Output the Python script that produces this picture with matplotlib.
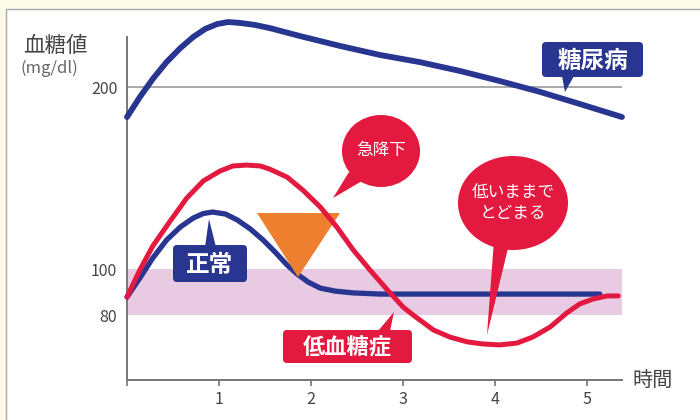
import numpy as np
import matplotlib.pyplot as plt
from matplotlib.patches import Rectangle, FancyBboxPatch, Polygon, Ellipse
from matplotlib.transforms import Affine2D

plt.rcParams['font.family'] = ['Noto Sans CJK JP', 'DejaVu Sans']

# time (hours) / blood sugar (mg/dl)
diab_t = [0, 0.14, 0.28, 0.43, 0.58, 0.72, 0.85, 0.98, 1.10, 1.23, 1.39, 1.55,
          1.88, 2.32, 2.75, 3.18, 3.62, 4.05, 4.49, 4.92, 5.38]
diab_v = [183.5, 194.5, 204.4, 213.7, 221.4, 227.5, 231.9, 234.6, 235.7, 235.2,
          234.1, 232.4, 228.0, 222.5, 217.6, 213.7, 208.8, 203.3, 197.3, 190.7,
          183.5]

norm_t = [0, 0.14, 0.28, 0.43, 0.58, 0.72, 0.83, 0.93, 1.07, 1.20, 1.34, 1.48,
          1.61, 1.74, 1.85, 1.97, 2.10, 2.26, 2.46, 2.75, 4.00, 5.14]
norm_v = [87.8, 96.1, 106.0, 115.9, 123.1, 128.0, 130.5, 131.3, 130.2, 126.9,
          122.0, 115.9, 109.3, 102.2, 97.8, 94.3, 91.7, 90.4, 89.6, 89.1, 89.1,
          89.1]

hypo_t = [0, 0.14, 0.28, 0.47, 0.65, 0.83, 1.01, 1.15, 1.30, 1.45, 1.55, 1.74,
          1.91, 2.10, 2.28, 2.46, 2.64, 2.83, 3.00, 3.11, 3.33, 3.51, 3.70,
          3.87, 4.05, 4.24, 4.41, 4.60, 4.78, 4.92, 5.07, 5.22, 5.34]
hypo_v = [87.8, 99.6, 112.6, 126.4, 139.0, 148.4, 153.8, 156.6, 157.1, 156.6,
          154.9, 150.5, 143.4, 134.1, 123.1, 110.4, 99.6, 90.9, 83.5, 80.0,
          73.5, 70.4, 68.3, 67.4, 67.0, 67.8, 70.4, 74.8, 80.9, 84.8, 87.0,
          88.3, 88.3]

normal_band = (80, 100)
y_ticks = [80, 100, 200]
x_ticks = [0, 1, 2, 3, 4, 5]
x_labels = ['', '1', '2', '3', '4', '5']

BLUE = '#283591'
RED = '#e3193f'
ORANGE = '#ee7f2e'
PINK = '#e8cbe2'
GRAY = '#767676'
TXT = '#444444'

# the y axis of the original is not linear (80-100 is stretched)
VK = [0, 80, 100, 200, 400]
HK = [-119, 65, 111, 293, 657]


def fwd(v):
    return np.interp(v, VK, HK)


def inv(h):
    return np.interp(h, HK, VK)


fig = plt.figure(figsize=(7, 4.2), dpi=100, facecolor='#fcfae8')
# pixel coordinates (origin top left) -> figure
P = Affine2D().scale(1 / 700, -1 / 420).translate(0, 1) + fig.transFigure

fig.patches.append(Rectangle((6, 9), 720, 430, transform=P, facecolor='white',
                             edgecolor='#a9a9a9', lw=1, zorder=-5))

ax = fig.add_axes([0, 0, 1, 1])
ax.patch.set_alpha(0)
ax.set_yscale('function', functions=(fwd, inv))
ax.set_xlim(-127 / 92, 573 / 92)
ax.set_ylim(inv(-40), inv(380))

x_end = 5.38
y_bot = inv(0)
y_top = inv(343)

for s in ['top', 'right']:
    ax.spines[s].set_visible(False)
ax.spines['left'].set_position(('data', 0))
ax.spines['left'].set_bounds(y_bot, y_top)
ax.spines['bottom'].set_position(('data', y_bot))
ax.spines['bottom'].set_bounds(0, x_end)
for s in ['left', 'bottom']:
    ax.spines[s].set_color(GRAY)
    ax.spines[s].set_linewidth(1.4)

ax.set_xticks(x_ticks, x_labels)
ax.set_yticks(y_ticks, [str(v) for v in y_ticks])
ax.yaxis.set_minor_locator(plt.NullLocator())
ax.tick_params(axis='x', direction='out', length=4, width=1.2, color=GRAY,
               pad=4, labelsize=11.5, labelcolor=TXT)
ax.tick_params(axis='y', length=0, pad=7, labelsize=11.5, labelcolor=TXT)

ax.fill_between([0, x_end], normal_band[0], normal_band[1], color=PINK,
                lw=0, zorder=1)
ax.hlines(200, 0, x_end, color='#9a9a9a', lw=1.2, zorder=1.5)

kw = dict(solid_capstyle='round', solid_joinstyle='round')
ax.plot(norm_t, norm_v, color=BLUE, lw=3.8, zorder=3, **kw)
ax.add_patch(Polygon([(257, 213), (340, 213), (298, 277)], transform=P,
                     facecolor=ORANGE, edgecolor='none', zorder=3.5))
ax.plot(hypo_t, hypo_v, color=RED, lw=3.6, zorder=4, **kw)
ax.plot(diab_t, diab_v, color=BLUE, lw=4.2, zorder=5, clip_on=False, **kw)


def box_label(x0, y0, x1, y1, color, text, size, tail):
    ax.add_patch(FancyBboxPatch((x0, y0), x1 - x0, y1 - y0, transform=P,
                                boxstyle='round,pad=0,rounding_size=4',
                                facecolor=color, edgecolor='none', zorder=6))
    ax.add_patch(Polygon(tail, transform=P, facecolor=color,
                         edgecolor='none', zorder=6))
    ax.text((x0 + x1) / 2, (y0 + y1) / 2 + 1, text, transform=P, color='white',
            fontsize=size, fontweight='bold', ha='center', va='center',
            zorder=7)


def bubble(cx, cy, rx, ry, tail, lines, size):
    ax.add_patch(Ellipse((cx, cy), 2 * rx, 2 * ry, transform=P, facecolor=RED,
                         edgecolor='none', zorder=6))
    ax.add_patch(Polygon(tail, transform=P, facecolor=RED, edgecolor='none',
                         zorder=6))
    ax.text(cx, cy, lines, transform=P, color='white', fontsize=size,
            ha='center', va='center', linespacing=1.25, zorder=7)


box_label(542, 42, 643, 77, BLUE, '糖尿病', 17,
          [(562, 76), (574, 76), (565, 92)])
box_label(173, 245, 247, 282, BLUE, '正常', 17,
          [(205, 247), (216, 247), (209, 219)])
box_label(283, 330, 412, 363, RED, '低血糖症', 16,
          [(378, 331), (390, 331), (394, 312)])

bubble(381, 151, 39, 36, [(349, 172), (362, 181), (333, 198)], '急降下', 12)
bubble(513, 203, 55, 47, [(494, 240), (510, 240), (487, 335)],
       '低いままで\nとどまる', 12)

ax.text(23, 46, '血糖値', transform=P, fontsize=15.5, color=TXT,
        ha='left', va='center')
ax.text(21, 68, '(mg/dl)', transform=P, fontsize=12, color='#666666',
        ha='left', va='center')
ax.text(633, 380, '時間', transform=P, fontsize=14.5, color=TXT,
        ha='left', va='center')

fig.savefig('out.png', dpi=100, facecolor=fig.get_facecolor())
